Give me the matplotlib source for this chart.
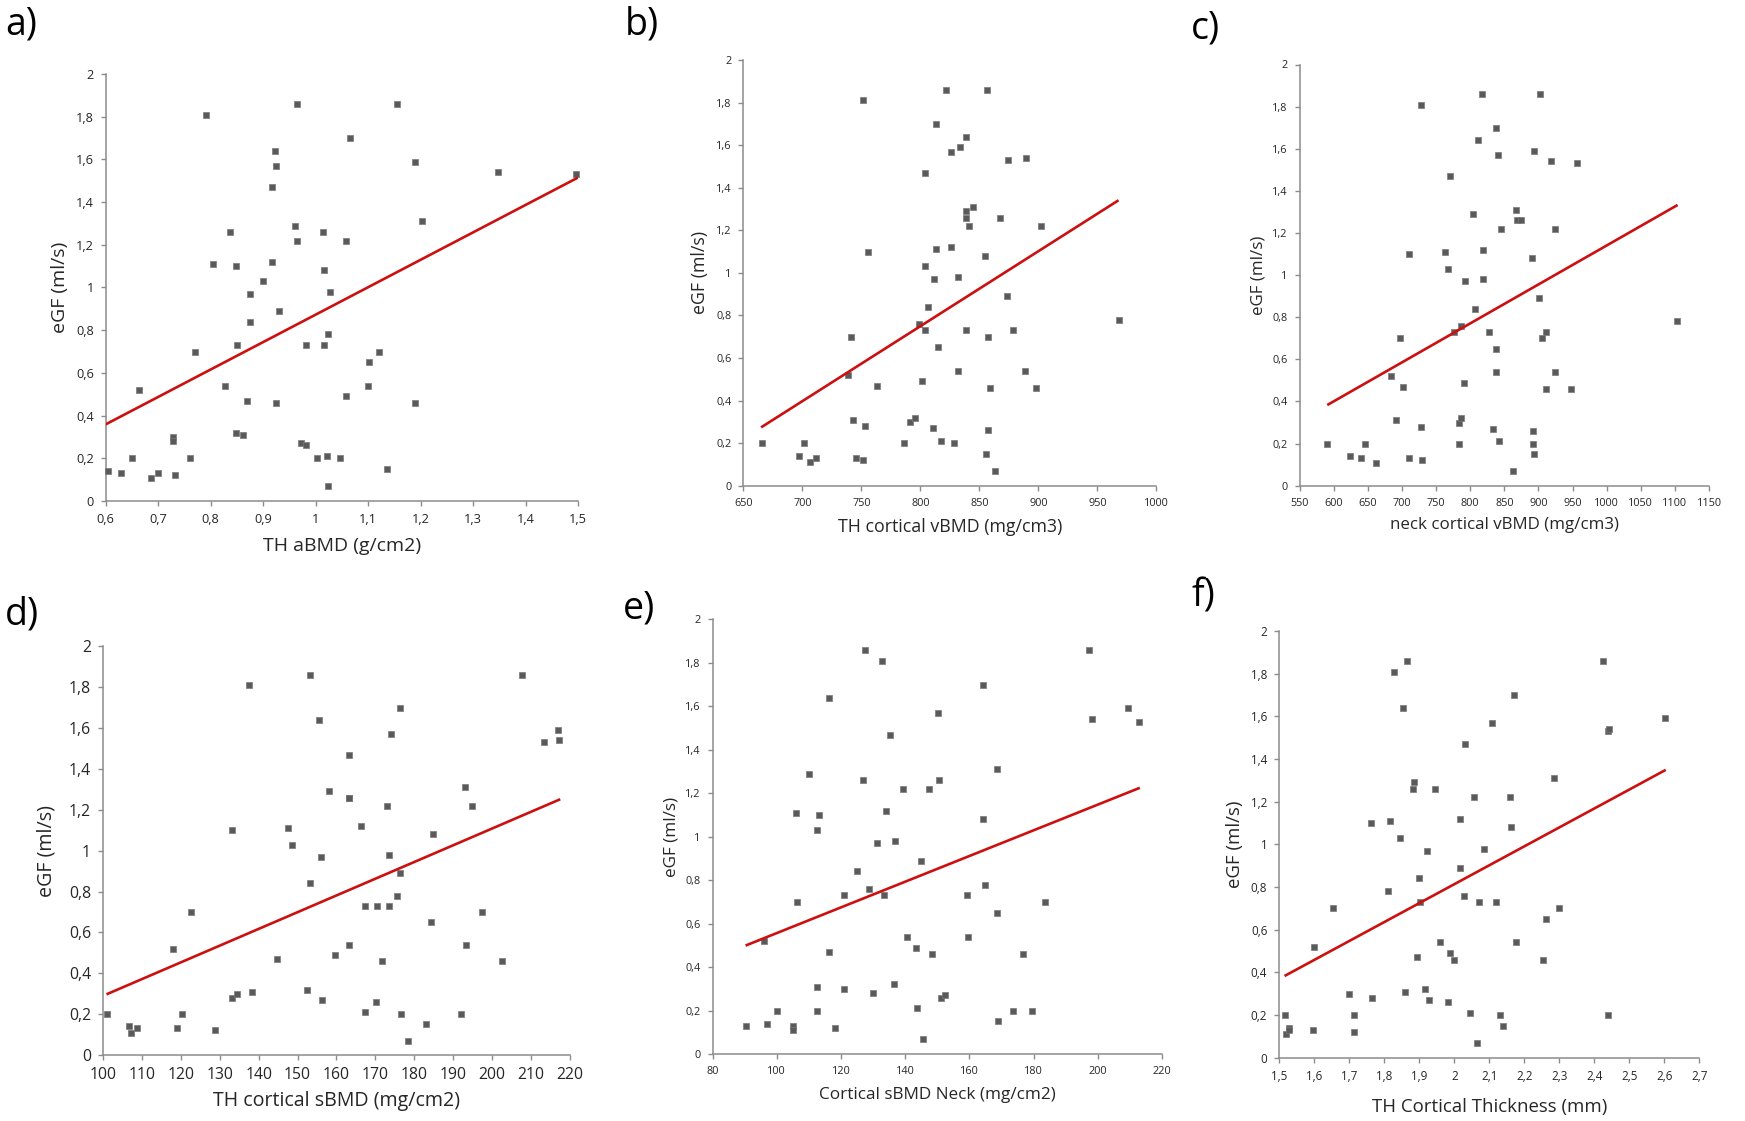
import numpy as np
import matplotlib
matplotlib.use('Agg')
import matplotlib.pyplot as plt
from matplotlib.ticker import FuncFormatter, MultipleLocator

plt.rcParams['font.family'] = ['Open Sans', 'DejaVu Sans']

# ---------------- data ----------------
# a) TH aBMD (g/cm2)
a_x = [0.604, 0.630, 0.651, 0.663, 0.686, 0.699, 0.728, 0.728, 0.733, 0.760,
       0.771, 0.792, 0.804, 0.828, 0.837, 0.848, 0.849, 0.851, 0.862, 0.870,
       0.875, 0.875, 0.899, 0.916, 0.917, 0.923, 0.925, 0.925, 0.931, 0.960,
       0.965, 0.965, 0.973, 0.982, 0.982, 1.003, 1.015, 1.016, 1.016, 1.021,
       1.024, 1.024, 1.028, 1.046, 1.057, 1.058, 1.065, 1.100, 1.101, 1.120,
       1.136, 1.155, 1.189, 1.190, 1.203, 1.347, 1.496]
a_y = [0.14, 0.13, 0.20, 0.52, 0.11, 0.13, 0.30, 0.28, 0.12, 0.20,
       0.70, 1.81, 1.11, 0.54, 1.26, 1.10, 0.32, 0.73, 0.31, 0.47,
       0.97, 0.84, 1.03, 1.47, 1.12, 1.64, 1.57, 0.46, 0.89, 1.29,
       1.86, 1.22, 0.27, 0.73, 0.26, 0.20, 1.26, 1.08, 0.73, 0.21,
       0.78, 0.07, 0.98, 0.20, 0.49, 1.22, 1.70, 0.54, 0.65, 0.70,
       0.15, 1.86, 1.59, 0.46, 1.31, 1.54, 1.53]
a_trend_x = [0.60, 1.50]
a_trend_y = [0.359, 1.515]

# b) TH cortical vBMD (mg/cm3)
b_x = [665.6, 697.4, 701.6, 706.5, 711.4, 738.6, 741.6, 742.9, 745.1, 751.0,
       751.6, 753.2, 755.2, 763.6, 786.4, 791.6, 795.8, 799.0, 801.6, 803.6,
       803.6, 803.9, 806.5, 810.7, 811.7, 813.0, 813.0, 814.6, 817.5, 821.4,
       825.6, 826.3, 828.2, 832.1, 832.1, 833.4, 838.3, 838.9, 838.9, 838.9,
       840.9, 844.8, 854.5, 855.8, 856.5, 857.5, 857.5, 858.8, 863.3, 867.2,
       873.4, 874.7, 878.6, 888.3, 889.9, 898.4, 902.3, 968.5]
b_y = [0.20, 0.14, 0.20, 0.11, 0.13, 0.52, 0.70, 0.31, 0.13, 1.81,
       0.12, 0.28, 1.10, 0.47, 0.20, 0.30, 0.32, 0.76, 0.49, 1.47,
       0.73, 1.03, 0.84, 0.27, 0.97, 1.70, 1.11, 0.65, 0.21, 1.86,
       1.57, 1.12, 0.20, 0.98, 0.54, 1.59, 1.64, 1.29, 1.26, 0.73,
       1.22, 1.31, 1.08, 0.15, 1.86, 0.70, 0.26, 0.46, 0.07, 1.26,
       0.89, 1.53, 0.73, 0.54, 1.54, 0.46, 1.22, 0.78]
b_trend_x = [665.0, 968.0]
b_trend_y = [0.274, 1.341]

# c) neck cortical vBMD (mg/cm3)
c_x = [590.4, 623.2, 640.1, 645.0, 661.4, 684.3, 691.9, 696.3, 701.8, 710.0,
       710.0, 728.0, 728.0, 729.1, 762.9, 766.7, 770.6, 776.6, 783.1, 783.7,
       786.4, 786.4, 790.3, 792.5, 803.9, 806.7, 811.6, 817.0, 818.1, 819.2,
       827.4, 833.9, 837.2, 838.3, 838.3, 841.0, 842.1, 844.8, 862.3, 867.7,
       868.8, 874.8, 890.7, 891.8, 891.8, 892.9, 892.9, 900.5, 901.6, 905.4,
       910.9, 910.9, 919.1, 924.0, 924.0, 947.5, 956.7, 1103.0]
c_y = [0.20, 0.14, 0.13, 0.20, 0.11, 0.52, 0.31, 0.70, 0.47, 1.10,
       0.13, 1.81, 0.28, 0.12, 1.11, 1.03, 1.47, 0.73, 0.30, 0.20,
       0.32, 0.76, 0.49, 0.97, 1.29, 0.84, 1.64, 1.86, 0.98, 1.12,
       0.73, 0.27, 1.70, 0.65, 0.54, 1.57, 0.21, 1.22, 0.07, 1.31,
       1.26, 1.26, 1.08, 0.26, 0.20, 1.59, 0.15, 0.89, 1.86, 0.70,
       0.73, 0.46, 1.54, 1.22, 0.54, 0.46, 1.53, 0.78]
c_trend_x = [590.4, 1104.0]
c_trend_y = [0.383, 1.333]

# d) TH cortical sBMD (mg/cm2)
d_x = [100.9, 106.6, 107.3, 108.7, 118.1, 119.1, 120.2, 122.7, 128.8, 133.1,
       133.2, 134.5, 137.4, 138.3, 144.6, 147.5, 148.5, 152.5, 153.1, 153.3,
       155.5, 156.0, 156.2, 158.1, 159.6, 163.1, 163.1, 163.2, 163.1, 166.4,
       167.3, 167.4, 170.1, 170.4, 171.6, 172.9, 173.6, 173.6, 174.0, 175.6,
       176.2, 176.3, 176.5, 178.3, 183.0, 184.4, 184.8, 192.0, 192.9, 193.3,
       194.9, 197.4, 202.4, 207.6, 213.4, 216.9, 217.3]
d_y = [0.20, 0.14, 0.11, 0.13, 0.52, 0.13, 0.20, 0.70, 0.12, 0.28,
       1.10, 0.30, 1.81, 0.31, 0.47, 1.11, 1.03, 0.32, 0.84, 1.86,
       1.64, 0.97, 0.27, 1.29, 0.49, 1.26, 1.26, 1.47, 0.54, 1.12,
       0.21, 0.73, 0.26, 0.73, 0.46, 1.22, 0.98, 0.73, 1.57, 0.78,
       0.89, 1.70, 0.20, 0.07, 0.15, 0.65, 1.08, 0.20, 1.31, 0.54,
       1.22, 0.70, 0.46, 1.86, 1.53, 1.59, 1.54]
d_trend_x = [100.9, 217.5]
d_trend_y = [0.297, 1.252]

# e) Cortical sBMD Neck (mg/cm2)
e_x = [90.3, 96.0, 96.9, 100.0, 105.2, 105.2, 106.0, 106.2, 110.2, 112.4,
       112.4, 112.5, 113.3, 116.3, 116.3, 118.3, 120.9, 121.1, 125.1, 127.0,
       127.5, 128.7, 130.0, 131.2, 132.8, 133.4, 134.1, 135.3, 136.4, 136.8,
       139.2, 140.6, 143.5, 143.7, 144.9, 145.6, 147.3, 148.5, 150.1, 150.5,
       151.3, 152.5, 159.4, 159.7, 164.2, 164.4, 164.9, 168.5, 168.6, 168.8,
       173.6, 176.8, 179.6, 183.7, 197.2, 198.3, 209.5, 212.8]
e_y = [0.13, 0.52, 0.14, 0.20, 0.13, 0.11, 1.11, 0.70, 1.29, 0.31,
       0.20, 1.03, 1.10, 1.64, 0.47, 0.12, 0.30, 0.73, 0.84, 1.26,
       1.86, 0.76, 0.28, 0.97, 1.81, 0.73, 1.12, 1.47, 0.32, 0.98,
       1.22, 0.54, 0.49, 0.21, 0.89, 0.07, 1.22, 0.46, 1.57, 1.26,
       0.26, 0.27, 0.73, 0.54, 1.08, 1.70, 0.78, 0.65, 1.31, 0.15,
       0.20, 0.46, 0.20, 0.70, 1.86, 1.54, 1.59, 1.53]
e_trend_x = [90.3, 213.1]
e_trend_y = [0.499, 1.225]

# f) TH Cortical Thickness (mm)
f_x = [1.515, 1.519, 1.527, 1.529, 1.595, 1.599, 1.653, 1.698, 1.713, 1.714,
       1.763, 1.765, 1.812, 1.815, 1.829, 1.845, 1.854, 1.860, 1.865, 1.881,
       1.884, 1.893, 1.899, 1.903, 1.916, 1.921, 1.927, 1.944, 1.959, 1.981,
       1.989, 1.998, 2.015, 2.016, 2.028, 2.031, 2.045, 2.055, 2.064, 2.071,
       2.086, 2.108, 2.120, 2.130, 2.138, 2.159, 2.163, 2.172, 2.175, 2.253,
       2.263, 2.284, 2.300, 2.424, 2.439, 2.441, 2.439, 2.602]
f_y = [0.20, 0.11, 0.14, 0.13, 0.13, 0.52, 0.70, 0.30, 0.12, 0.20,
       1.10, 0.28, 0.78, 1.11, 1.81, 1.03, 1.64, 0.31, 1.86, 1.26,
       1.29, 0.47, 0.84, 0.73, 0.32, 0.97, 0.27, 1.26, 0.54, 0.26,
       0.49, 0.46, 1.12, 0.89, 0.76, 1.47, 0.21, 1.22, 0.07, 0.73,
       0.98, 1.57, 0.73, 0.20, 0.15, 1.22, 1.08, 1.70, 0.54, 0.46,
       0.65, 1.31, 0.70, 1.86, 1.53, 1.54, 0.20, 1.59]
f_trend_x = [1.515, 2.604]
f_trend_y = [0.383, 1.349]

panel_letters = ['a)', 'b)', 'c)', 'd)', 'e)', 'f)']
x_labels = ['TH aBMD (g/cm2)', 'TH cortical vBMD (mg/cm3)', 'neck cortical vBMD (mg/cm3)',
            'TH cortical sBMD (mg/cm2)', 'Cortical sBMD Neck (mg/cm2)', 'TH Cortical Thickness (mm)']
y_label = 'eGF (ml/s)'
x_limits = [(0.6, 1.5), (650, 1000), (550, 1150), (100, 220), (80, 220), (1.5, 2.7)]
x_steps = [0.1, 50, 50, 10, 20, 0.1]
y_limits = (0, 2)
y_step = 0.2

series = [(a_x, a_y, a_trend_x, a_trend_y),
          (b_x, b_y, b_trend_x, b_trend_y),
          (c_x, c_y, c_trend_x, c_trend_y),
          (d_x, d_y, d_trend_x, d_trend_y),
          (e_x, e_y, e_trend_x, e_trend_y),
          (f_x, f_y, f_trend_x, f_trend_y)]

# ---------------- layout (pixel based) ----------------
W, H = 1745, 1121
# left, right, top, bottom of plot area in pixels
boxes = [(105.7, 578.0, 74.0, 501.0),
         (743.4, 1156.3, 60.0, 485.7),
         (1299.7, 1709.0, 64.5, 485.7),
         (103.0, 570.0, 646.4, 1055.0),
         (712.5, 1162.0, 619.4, 1054.0),
         (1279.3, 1699.3, 631.0, 1057.7)]
tick_fs = [9.2, 7.8, 7.8, 11.3, 7.8, 8.4]
label_fs = [14.0, 12.8, 12.2, 14.1, 12.3, 13.4]
xlabel_off = [45, 41, 39, 46, 41, 49]
ylabel_off = [46, 43, 41, 57, 40.5, 44.7]
letter_pos = [(5, 6), (625, 6), (1191, 9), (5, 595), (623, 589), (1191, 577)]
letter_fs = 27

spine_col = '#8c8c8c'
text_col = '#262626'
marker_face = '#5a5a5a'
marker_edge = '#7a7a7a'
line_col = '#cc1010'

fig = plt.figure(figsize=(W / 100, H / 100), dpi=100)
fig.patch.set_facecolor('white')


def fmt(v, pos):
    s = f"{round(v, 6):g}"
    return s.replace('.', ',')


for i, (xs, ys, tx, ty) in enumerate(series):
    l, r, t, b = boxes[i]
    ax = fig.add_axes([l / W, 1 - b / H, (r - l) / W, (b - t) / H])
    ax.scatter(xs, ys, marker='s', s=17, facecolor=marker_face, edgecolor=marker_edge,
               linewidths=0.5, zorder=3, clip_on=False)
    ax.plot(tx, ty, color=line_col, lw=1.9, zorder=4, solid_capstyle='butt')
    ax.set_xlim(*x_limits[i])
    ax.set_ylim(*y_limits)
    ax.xaxis.set_major_locator(MultipleLocator(x_steps[i]))
    ax.yaxis.set_major_locator(MultipleLocator(y_step))
    ax.xaxis.set_major_formatter(FuncFormatter(fmt))
    ax.yaxis.set_major_formatter(FuncFormatter(fmt))
    for s in ['top', 'right']:
        ax.spines[s].set_visible(False)
    for s in ['left', 'bottom']:
        ax.spines[s].set_color(spine_col)
        ax.spines[s].set_linewidth(1.1)
    ax.tick_params(axis='both', direction='out', length=3.6, width=1.0, color=spine_col,
                   labelsize=tick_fs[i], labelcolor=text_col, pad=5)
    ax.set_xlabel(x_labels[i], fontsize=label_fs[i], color=text_col, va='center')
    ax.set_ylabel(y_label, fontsize=label_fs[i], color=text_col, va='center')
    ax.xaxis.set_label_coords(0.5, -xlabel_off[i] / (b - t))
    ax.yaxis.set_label_coords(-ylabel_off[i] / (r - l), 0.5)
    lx, ly = letter_pos[i]
    fig.text(lx / W, 1 - ly / H, panel_letters[i], fontsize=letter_fs, color='#000000',
             ha='left', va='top')

fig.savefig('out.png', dpi=100, facecolor='white')
